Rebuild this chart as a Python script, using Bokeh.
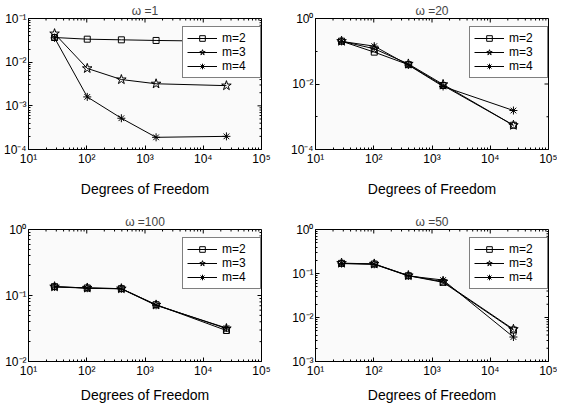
from bokeh.plotting import figure
from bokeh.layouts import gridplot
from bokeh.models import FixedTicker, Range1d, Legend
from bokeh.embed import file_html
from bokeh.resources import INLINE

# ---- data ----
dof = [28, 102, 393, 1550, 25000]

w1_m2 = [0.0367, 0.0336, 0.0325, 0.0314, 0.0300]
w1_m3 = [0.0450, 0.0072, 0.0040, 0.0032, 0.0029]
w1_m4 = [0.0360, 0.0016, 0.00052, 0.00019, 0.00020]

w20_m2 = [0.203, 0.094, 0.039, 0.0090, 0.00055]
w20_m3 = [0.203, 0.119, 0.041, 0.0097, 0.00055]
w20_m4 = [0.200, 0.143, 0.038, 0.0084, 0.00155]

w100_m2 = [0.136, 0.130, 0.127, 0.0725, 0.0295]
w100_m3 = [0.136, 0.130, 0.127, 0.0720, 0.0316]
w100_m4 = [0.135, 0.129, 0.126, 0.0710, 0.0322]

w50_m2 = [0.170, 0.164, 0.089, 0.063, 0.0052]
w50_m3 = [0.172, 0.165, 0.090, 0.065, 0.0054]
w50_m4 = [0.168, 0.162, 0.088, 0.071, 0.0036]

series_labels = ["m=2", "m=3", "m=4"]
titles = ["\u03c9 =1", "\u03c9 =20", "\u03c9 =100", "\u03c9 =50"]
x_label = "Degrees of Freedom"

x_exps = [1, 2, 3, 4, 5]
y_exps_w1 = [-4, -3, -2, -1]
y_exps_w20 = [-4, -2, 0]
y_exps_w100 = [-2, -1, 0]
y_exps_w50 = [-3, -2, -1, 0]

FONT = "Liberation Sans"
SUP = str.maketrans("0123456789-", "\u2070\u00b9\u00b2\u00b3\u2074\u2075\u2076\u2077\u2078\u2079\u207b")


def sup_label(e):
    return "10" + str(e).translate(SUP)


def minor_list(lo, hi):
    out = []
    for e in range(lo, hi):
        for k in range(2, 10):
            out.append(k * 10.0 ** e)
    return out


def make_panel(title, ys, y_exps, fw, fh, bl, br, bt, bb, label_standoff, y_minor_decades):
    xlo, xhi = 10.0 ** x_exps[0], 10.0 ** x_exps[-1]
    ylo, yhi = 10.0 ** y_exps[0], 10.0 ** y_exps[-1]
    p = figure(frame_width=fw, frame_height=fh, x_axis_type="log", y_axis_type="log",
               x_range=Range1d(xlo, xhi), y_range=Range1d(ylo, yhi),
               output_backend="svg", toolbar_location=None, title=title)
    p.min_border = 0
    p.min_border_left = bl
    p.min_border_right = br
    p.min_border_top = bt
    p.min_border_bottom = bb
    p.background_fill_color = "#fafafa"
    p.border_fill_color = "white"
    p.outline_line_color = "black"
    p.outline_line_width = 1
    p.grid.grid_line_color = None

    p.title.text_font = FONT
    p.title.text_font_size = "12px"
    p.title.text_font_style = "normal"
    p.title.align = "center"
    p.title.standoff = 2

    xt = [10.0 ** e for e in x_exps]
    yt = [10.0 ** e for e in y_exps]
    xm = minor_list(x_exps[0], x_exps[-1])
    if y_minor_decades:
        ym = [10.0 ** e for e in range(y_exps[0], y_exps[-1]) if e not in y_exps]
    else:
        ym = minor_list(y_exps[0], y_exps[-1])

    xa = p.xaxis[0]
    xa.ticker = FixedTicker(ticks=xt, minor_ticks=xm)
    xa.major_label_overrides = {v: sup_label(e) for v, e in zip(xt, x_exps)}
    ya = p.yaxis[0]
    ya.ticker = FixedTicker(ticks=yt, minor_ticks=ym)
    ya.major_label_overrides = {v: sup_label(e) for v, e in zip(yt, y_exps)}

    for ax in (xa, ya):
        ax.major_label_text_font = FONT
        ax.major_label_text_font_size = "12px"
        ax.major_label_text_color = "black"
        ax.major_label_standoff = 2
        ax.major_tick_in = 4
        ax.major_tick_out = 0
        ax.minor_tick_in = 2
        ax.minor_tick_out = 0
        ax.axis_line_color = "black"
        ax.major_tick_line_color = "black"
        ax.minor_tick_line_color = "black"
    xa.axis_label = x_label
    xa.axis_label_text_font = FONT
    xa.axis_label_text_font_size = "14px"
    xa.axis_label_text_font_style = "normal"
    xa.axis_label_text_color = "black"
    xa.axis_label_standoff = label_standoff

    # box ticks on the top and right edges (inward), sized in pixels
    ppd_x = fw / (x_exps[-1] - x_exps[0])
    ppd_y = fh / (y_exps[-1] - y_exps[0])
    tx0, tx1, ty0, ty1 = [], [], [], []
    for vals, L in ((xt, 4), (xm, 2)):
        for v in vals:
            tx0.append(v); tx1.append(v)
            ty0.append(yhi); ty1.append(yhi / 10 ** (L / ppd_y))
    for vals, L in ((yt, 4), (ym, 2)):
        for v in vals:
            ty0.append(v); ty1.append(v)
            tx0.append(xhi); tx1.append(xhi / 10 ** (L / ppd_x))
    p.segment(x0=tx0, y0=ty0, x1=tx1, y1=ty1, line_color="black", line_width=1)

    m2, m3, m4 = ys
    r2l = p.line(dof, m2, line_color="black", line_width=1)
    r2s = p.scatter(dof, m2, marker="square", size=6, line_color="black", fill_color=None)
    r3l = p.line(dof, m3, line_color="black", line_width=1)
    r3s = p.scatter(dof, m3, marker="star", size=10, line_color="black", fill_color=None)
    r4l = p.line(dof, m4, line_color="black", line_width=1)
    r4s = p.scatter(dof, m4, marker="asterisk", size=8, line_color="black", fill_color=None)

    pad, gw, gh, lw, ls = 4, 30, 14, 34, 5
    leg_w = 2 * pad + gw + ls + lw
    leg_h = 2 * pad + 3 * gh
    leg = Legend(items=[(series_labels[0], [r2l, r2s]), (series_labels[1], [r3l, r3s]),
                        (series_labels[2], [r4l, r4s])],
                 location=(fw - 2 - leg_w, fh - 10 - leg_h))
    leg.margin = 0
    leg.padding = pad
    leg.spacing = 0
    leg.glyph_width = gw
    leg.glyph_height = gh
    leg.label_height = gh
    leg.label_width = lw
    leg.label_standoff = ls
    leg.label_text_font = FONT
    leg.label_text_font_size = "12px"
    leg.label_text_color = "black"
    leg.border_line_color = "black"
    leg.border_line_width = 1
    leg.background_fill_color = "white"
    leg.background_fill_alpha = 1.0
    p.add_layout(leg, "center")
    return p


FW, FH_T, FH_B = 233, 131, 132

p1 = make_panel(titles[0], (w1_m2, w1_m3, w1_m4), y_exps_w1, FW, FH_T, 23, 14, 13, 58, 12, False)
p2 = make_panel(titles[1], (w20_m2, w20_m3, w20_m4), y_exps_w20, FW, FH_T, 40, 9, 13, 58, 12, True)
p3 = make_panel(titles[2], (w100_m2, w100_m3, w100_m4), y_exps_w100, FW, FH_B, 23, 14, 22, 40, 6, False)
p4 = make_panel(titles[3], (w50_m2, w50_m3, w50_m4), y_exps_w50, FW, FH_B, 40, 9, 22, 40, 6, False)

grid = gridplot([[p1, p2], [p3, p4]], toolbar_location=None)

open("out.html", "w").write(file_html(grid, INLINE))
